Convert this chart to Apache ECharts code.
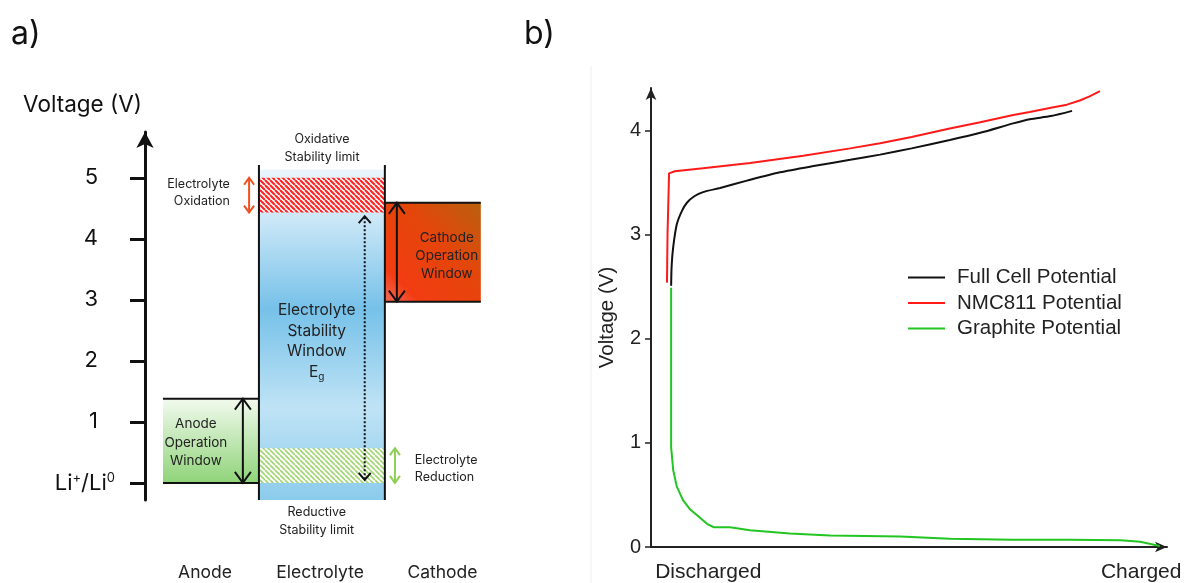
<!DOCTYPE html>
<html>
<head>
<meta charset="utf-8">
<script src="https://cdn.jsdelivr.net/npm/echarts@6/dist/echarts.min.js"></script>
<style>
  html, body { margin: 0; padding: 0; background: #fff; }
  #chart { width: 1185px; height: 583px; }
</style>
</head>
<body>
<div id="chart"></div>
<script>
// ---------- a) stability windows, voltage vs. Li+/Li0 ----------
const voltageTicks = [0, 1, 2, 3, 4, 5];
const voltageTickLabels = ['Li⁺/Li⁰', '1', '2', '3', '4', '5'];
const columns = ['Anode', 'Electrolyte', 'Cathode'];
const columnEdges = [0.375, 2.375, 5.0, 7.0];     // anode | electrolyte | cathode
const columnLabelPos = [1.25, 3.65, 6.2];
const anodeWindow = [0, 1.38];
const cathodeWindow = [2.97, 4.59];
const electrolyteFill = [-0.28, 5.13];
const electrolyteWallTop = 5.21;
const oxidationBand = [4.43, 5.0];
const reductionBand = [0, 0.57];
const stabilityArrow = [0.05, 4.37];

// ---------- b) voltage profiles from discharged to charged ----------
const chargeLabels = ['Discharged', 'Charged'];
const chargeLabelPos = [11.1, 95];
const cellTicks = [0, 1, 2, 3, 4];
const fullCell = [[3.9, 2.51], [4.0, 2.7], [4.3, 2.88], [5.0, 3.1], [6.0, 3.23], [7.0, 3.31], [8.4, 3.37],
  [10.1, 3.41], [13.4, 3.45], [18.6, 3.52], [25.0, 3.60], [31.5, 3.66], [38.6, 3.72], [44.4, 3.77],
  [50.5, 3.83], [57.9, 3.91], [63.8, 3.98], [70.2, 4.07], [73.4, 4.11], [77.5, 4.14], [81.6, 4.19]];
const nmc811 = [[3.1, 2.54], [3.2, 3.0], [3.5, 3.59], [4.6, 3.61], [10.1, 3.64], [19.2, 3.69], [29.5, 3.76],
  [38.6, 3.83], [44.4, 3.88], [50.5, 3.94], [57.9, 4.02], [63.8, 4.08], [70.2, 4.15], [73.4, 4.18],
  [77.5, 4.22], [80.6, 4.25], [83.1, 4.29], [85.0, 4.33], [87.0, 4.38]];
const graphite = [[3.9, 2.49], [3.9, 0.96], [4.3, 0.74], [5.0, 0.58], [6.2, 0.45], [7.6, 0.36], [9.5, 0.28],
  [10.9, 0.22], [12.2, 0.19], [15.3, 0.19], [19.2, 0.16], [26.9, 0.13], [34.7, 0.11], [48.3, 0.10],
  [57.9, 0.08], [70.0, 0.07], [81.0, 0.07], [91.0, 0.065], [94.8, 0.05], [98.6, 0.01]];

const FONT_A = 'Inter';
const FONT_B = 'Liberation Sans';

// diagonal hatch tile used for the decomposition bands
function hatch(color, step, lw) {
  const c = document.createElement('canvas');
  c.width = c.height = step;
  const g = c.getContext('2d');
  g.fillStyle = '#fff';
  g.fillRect(0, 0, step, step);
  g.strokeStyle = color;
  g.lineWidth = lw;
  g.beginPath();
  for (const k of [-step, 0, step]) { g.moveTo(k, 0); g.lineTo(k + step, step); }
  g.stroke();
  return { type: 'pattern', image: c, repeat: 'repeat' };
}

const SUP = { '⁺': '+', '⁰': '0' };
function richSup(s) {
  return s.split(/([⁺⁰])/).filter(Boolean)
    .map(t => SUP[t] ? '{s|' + SUP[t] + '}' : '{b|' + t + '}').join('');
}

function box(api, x0, x1, v0, v1, fill) {
  const a = api.coord([x0, v1]), b = api.coord([x1, v0]);
  return { type: 'rect', shape: { x: a[0], y: a[1], width: b[0] - a[0], height: b[1] - a[1] }, style: { fill } };
}
function seg(api, x0, v0, x1, v1, stroke, lw) {
  const a = api.coord([x0, v0]), b = api.coord([x1, v1]);
  return { type: 'line', shape: { x1: a[0], y1: a[1], x2: b[0], y2: b[1] }, style: { stroke, lineWidth: lw } };
}
function doubleArrow(api, x, v0, v1, stroke, lw, hw, hh, dash) {
  const top = api.coord([x, v1]), bot = api.coord([x, v0]);
  return [
    { type: 'line', shape: { x1: top[0], y1: top[1] + 1, x2: bot[0], y2: bot[1] - 1 },
      style: { stroke, lineWidth: lw, lineDash: dash || null } },
    { type: 'polyline', shape: { points: [[top[0] - hw, top[1] + hh], [top[0], top[1]], [top[0] + hw, top[1] + hh]] },
      style: { stroke, lineWidth: lw, fill: null } },
    { type: 'polyline', shape: { points: [[bot[0] - hw, bot[1] - hh], [bot[0], bot[1]], [bot[0] + hw, bot[1] - hh]] },
      style: { stroke, lineWidth: lw, fill: null } }
  ];
}
function label(api, x, v, text, extra) {
  const p = api.coord([x, v]);
  return { type: 'text', x: p[0], y: p[1],
    style: Object.assign({ text, fill: '#222', fontFamily: FONT_A, fontSize: 13, align: 'center', verticalAlign: 'middle' }, extra) };
}

function drawWindows(params, api) {
  const [xA, xE, xC, xEnd] = columnEdges;
  const blue = new echarts.graphic.LinearGradient(0, 0, 0, 1, [
    { offset: 0, color: '#e9f5fc' }, { offset: 0.15, color: '#cbe7f7' }, { offset: 0.42, color: '#76c1e9' },
    { offset: 0.72, color: '#bfe3f5' }, { offset: 1, color: '#8ccbec' }]);
  const green = new echarts.graphic.LinearGradient(0, 0, 0, 1, [
    { offset: 0, color: '#f2faee' }, { offset: 1, color: '#8fd479' }]);
  const orange = new echarts.graphic.LinearGradient(0, 1, 1, 0, [
    { offset: 0, color: '#f56a5c' }, { offset: 0.18, color: '#f23c12' }, { offset: 0.6, color: '#e4460a' },
    { offset: 1, color: '#b9600f' }]);
  const c = [];
  c.push(box(api, xE, xC, electrolyteFill[0], electrolyteFill[1], blue));
  c.push(box(api, xE, xC, oxidationBand[0], oxidationBand[1], hatch('#ff2424', 5, 2.1)));
  c.push(box(api, xE, xC, reductionBand[0], reductionBand[1], hatch('#a4d676', 5, 1.7)));
  c.push(box(api, xA, xE, anodeWindow[0], anodeWindow[1], green));
  c.push(box(api, xC, xEnd, cathodeWindow[0], cathodeWindow[1], orange));
  // window edges
  for (const v of anodeWindow) c.push(seg(api, xA, v, xE, v, '#111', 2));
  for (const v of cathodeWindow) c.push(seg(api, xC, v, xEnd, v, '#111', 2));
  for (const x of [xE, xC]) c.push(seg(api, x, electrolyteFill[0], x, electrolyteWallTop, '#111', 2));
  // arrows
  c.push(...doubleArrow(api, 2.04, anodeWindow[0], anodeWindow[1], '#111', 2, 8, 11));
  c.push(...doubleArrow(api, 5.25, cathodeWindow[0], cathodeWindow[1], '#111', 2, 8, 11));
  c.push(...doubleArrow(api, 4.58, stabilityArrow[0], stabilityArrow[1], '#111', 2, 6, 7, [2, 2]));
  c.push(...doubleArrow(api, 2.17, oxidationBand[0], oxidationBand[1], '#f0501e', 2, 5, 7));
  c.push(...doubleArrow(api, 5.21, reductionBand[0], reductionBand[1], '#8fce55', 2, 5, 7));
  // annotations
  c.push(label(api, 1.77, 4.75, 'Electrolyte\nOxidation', { align: 'right', fontSize: 12.5, lineHeight: 17 }));
  c.push(label(api, 3.69, 5.49, 'Oxidative\nStability limit', { fontSize: 12.5, lineHeight: 18 }));
  c.push(label(api, 3.58, -0.62, 'Reductive\nStability limit', { fontSize: 12.5, lineHeight: 18 }));
  c.push(label(api, 5.625, 0.24, 'Electrolyte\nReduction', { align: 'left', fontSize: 12.5, lineHeight: 17 }));
  c.push(label(api, 1.06, 0.66, 'Anode\nOperation\nWindow', { fontSize: 13.5, lineHeight: 18.5 }));
  c.push(label(api, 6.29, 3.72, 'Cathode\nOperation\nWindow', { fontSize: 13.5, lineHeight: 18 }));
  c.push(label(api, 3.58, 2.32, '{t|Electrolyte}\n{t|Stability}\n{t|Window}\n{t|E}{g|g}', {
    rich: {
      t: { fontFamily: FONT_A, fontSize: 15.5, lineHeight: 20.5, fill: '#222' },
      g: { fontFamily: FONT_A, fontSize: 10, lineHeight: 12, verticalAlign: 'bottom', fill: '#222' }
    }
  }));
  return { type: 'group', children: c };
}

const chart = echarts.init(document.getElementById('chart'), null, { renderer: 'canvas' });
chart.setOption({
  animation: false,
  backgroundColor: '#fff',
  title: [
    { text: 'a)', left: 6, top: 13, textStyle: { fontFamily: FONT_A, fontSize: 32, fontWeight: 'normal', color: '#111' } },
    { text: 'b)', left: 519, top: 13, textStyle: { fontFamily: FONT_A, fontSize: 32, fontWeight: 'normal', color: '#111' } }
  ],
  graphic: [
    { type: 'line', shape: { x1: 591, y1: 66, x2: 591, y2: 583 }, style: { stroke: '#efefef', lineWidth: 1 }, silent: true }
  ],
  legend: {
    orient: 'vertical', left: 908, top: 267, padding: 0,
    itemWidth: 37, itemHeight: 2, itemGap: 4.5, icon: 'rect',
    textStyle: { fontFamily: FONT_B, fontSize: 20.5, color: '#222', padding: [0, 0, 0, 7] },
    data: ['Full Cell Potential', 'NMC811 Potential', 'Graphite Potential']
  },
  grid: [
    { left: 145, top: 132, width: 355, bottom: 83 },
    { left: 651, top: 88, right: 18, bottom: 36 }
  ],
  xAxis: [
    {
      gridIndex: 0, type: 'value', min: 0, max: 7.4,
      axisLine: { show: false }, axisTick: { show: false }, splitLine: { show: false },
      axisLabel: {
        customValues: columnLabelPos, margin: 64,
        formatter: v => columns[columnLabelPos.indexOf(v)],
        fontFamily: FONT_A, fontSize: 17.5, color: '#222'
      }
    },
    {
      gridIndex: 1, type: 'value', min: 0, max: 100,
      axisLine: { show: true, symbol: ['none', 'arrow'], symbolSize: [8, 12], lineStyle: { color: '#222', width: 2 } },
      axisTick: { show: false }, splitLine: { show: false },
      axisLabel: {
        customValues: chargeLabelPos, margin: 15,
        formatter: v => chargeLabels[chargeLabelPos.indexOf(v)],
        fontFamily: FONT_B, fontSize: 21, color: '#222'
      }
    }
  ],
  yAxis: [
    {
      gridIndex: 0, type: 'value', min: -0.28, max: 5.75,
      name: 'Voltage (V)', nameLocation: 'end', nameGap: 15,
      nameTextStyle: { fontFamily: FONT_A, fontSize: 22.5, color: '#111', align: 'right', padding: [0, 3, 0, 0] },
      axisLine: { show: true, symbol: ['none', 'arrow'], symbolSize: [13, 16], lineStyle: { color: '#111', width: 3 } },
      axisTick: { show: true, customValues: voltageTicks, length: 15, lineStyle: { color: '#111', width: 3 } },
      splitLine: { show: false },
      axisLabel: {
        customValues: voltageTicks, margin: 30,
        formatter: v => {
          const s = voltageTickLabels[voltageTicks.indexOf(v)];
          return v === voltageTicks[0] ? richSup(s) : '{n|' + s + '}';
        },
        rich: {
          b: { fontFamily: FONT_A, fontSize: 22, color: '#111' },
          s: { fontFamily: FONT_A, fontSize: 13, color: '#111', verticalAlign: 'top' },
          n: { fontFamily: FONT_A, fontSize: 22, color: '#111', padding: [0, 17, 0, 0] }
        }
      }
    },
    {
      gridIndex: 1, type: 'value', min: 0, max: 4.41,
      name: 'Voltage (V)', nameLocation: 'middle', nameGap: 33,
      nameTextStyle: { fontFamily: FONT_B, fontSize: 20.5, color: '#222' },
      axisLine: { show: true, symbol: ['none', 'arrow'], symbolSize: [8, 12], lineStyle: { color: '#222', width: 2 } },
      axisTick: { show: true, customValues: cellTicks, length: 6, lineStyle: { color: '#222', width: 1.5 } },
      splitLine: { show: false },
      axisLabel: { customValues: cellTicks, margin: 10, fontFamily: FONT_B, fontSize: 20, color: '#222' }
    }
  ],
  series: [
    {
      type: 'custom', name: 'windows', xAxisIndex: 0, yAxisIndex: 0, silent: true,
      data: [[0, 0]], renderItem: drawWindows
    },
    {
      type: 'line', name: 'Full Cell Potential', xAxisIndex: 1, yAxisIndex: 1, data: fullCell,
      showSymbol: false, smooth: 0.25, color: '#111', lineStyle: { width: 2 }, z: 4
    },
    {
      type: 'line', name: 'NMC811 Potential', xAxisIndex: 1, yAxisIndex: 1, data: nmc811,
      showSymbol: false, color: '#ff1a1a', lineStyle: { width: 2 }, z: 3
    },
    {
      type: 'line', name: 'Graphite Potential', xAxisIndex: 1, yAxisIndex: 1, data: graphite,
      showSymbol: false, color: '#22c522', lineStyle: { width: 2 }, z: 3
    }
  ]
});
</script>
</body>
</html>
